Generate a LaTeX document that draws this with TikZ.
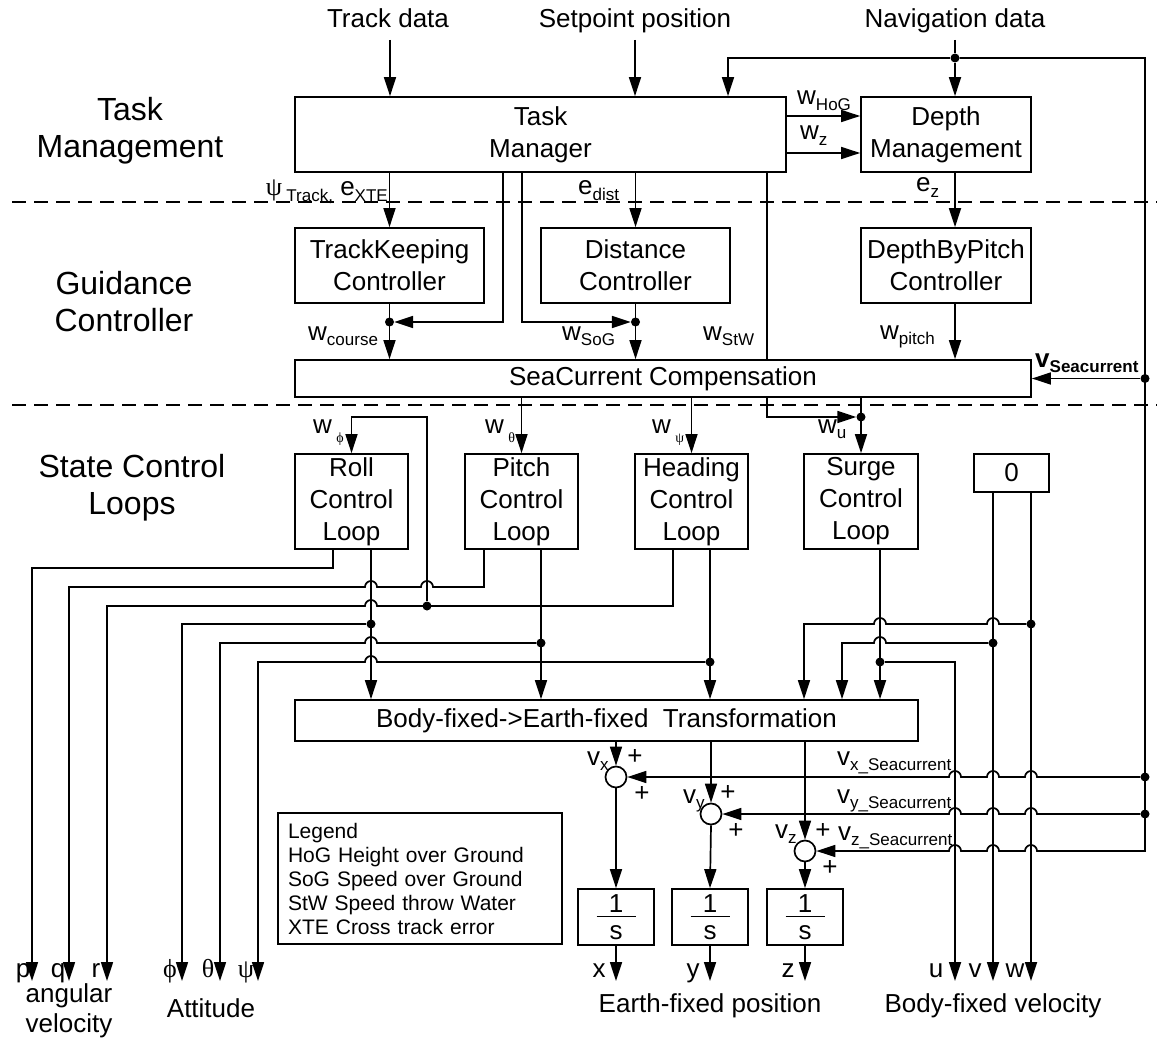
\documentclass[tikz,border=0pt]{standalone}
\usepackage{fontspec}
\setmainfont{Liberation Sans}
\newfontfamily\grk{Liberation Serif}
\usetikzlibrary{arrows.meta, positioning, calc}

% subscripts as drawn in the scheme
\newcommand{\ssub}[1]{\raisebox{-0.2em}{\fontsize{17}{17}\selectfont #1}}
\newcommand{\gsub}[1]{\,\raisebox{-0.35em}{\fontsize{14}{14}\selectfont\grk #1}}

\begin{document}
\begin{tikzpicture}[x=1pt, y=-1pt,
    blk/.style={draw, line width=1.7pt, inner sep=0pt, align=center, font=\fontsize{26}{32}\selectfont},
    intg/.style={blk, font=\fontsize{26}{26}\selectfont, minimum width=76, minimum height=56},
    sig/.style={line width=1.7pt, -{Triangle[length=19pt, width=12pt]}},
    wire/.style={line width=1.7pt},
    jdot/.style={circle, fill, inner sep=0pt, minimum size=9pt},
    sumc/.style={circle, draw, line width=1.7pt, fill=white, inner sep=0pt, minimum size=21pt},
    lab/.style={inner sep=0pt, font=\fontsize{26}{30}\selectfont},
    grp/.style={inner sep=0pt, align=center, font=\fontsize{32}{37}\selectfont},
    sep/.style={line width=1.4pt, dash pattern=on 14pt off 8pt}
]
\useasboundingbox (0,0) rectangle (1157,1043);

% layer separators
\draw[sep] (12,202) -- (1157,202);
\draw[sep] (12,405) -- (1157,405);

% layer names
\node[grp] (gTask) at (130,131) {Task\\Management};
\node[grp] (gGuid) at (124,302) {Guidance\\Controller};
\node[grp] (gState) at (132,488) {State Control\\Loops};

% inputs
\node[lab, anchor=base] (tdata) at (388,28) {Track data};
\node[lab, anchor=base] (spos) at (635,28) {Setpoint position};
\node[lab, anchor=base] (ndata) at (955,28) {Navigation data};
\coordinate (tdin) at (390,40);
\coordinate (spin) at (635,40);
\coordinate (ndin) at (955,40);

% blocks
\node[blk, minimum width=491, minimum height=75] (tm) at (540.5,134.5) {Task\\Manager};
\node[blk, minimum width=170, minimum height=75] (dm) at (946,134.5) {Depth\\Management};
\node[blk, minimum width=189, minimum height=75] (tk) at (389.5,265.5) {TrackKeeping\\Controller};
\node[blk, minimum width=189, minimum height=75] (dc) at (635.5,265.5) {Distance\\Controller};
\node[blk, minimum width=170, minimum height=75] (dp) at (946,265.5) {DepthByPitch\\Controller};
\node[blk, minimum width=736, minimum height=37] (sc) at (663,378.5) {SeaCurrent Compensation};
\node[blk, minimum width=113, minimum height=95] (roll) at (351.5,501.5) {Roll\\Control\\Loop};
\node[blk, minimum width=113, minimum height=95] (pitch) at (521.5,501.5) {Pitch\\Control\\Loop};
\node[blk, minimum width=113, minimum height=95] (head) at (691.5,501.5) {Heading\\Control\\Loop};
\node[blk, minimum width=114, minimum height=95] (surge) at (861,501.5) {Surge\\Control\\Loop};
\node[blk, minimum width=75, minimum height=38] (zero) at (1011.5,473) {0};
\node[blk, minimum width=623, minimum height=41] (tr) at (606.5,720.5) {Body-fixed->Earth-fixed\ \ Transformation};
\node[sumc] (cx) at (616,777) {};
\node[sumc] (cy) at (711,814) {};
\node[sumc] (cz) at (805,851) {};
\node[intg] (ix) at (616,917) {1\\[-21pt]\rule{39pt}{1.3pt}\\[-4pt]s};
\node[intg] (iy) at (710,917) {1\\[-21pt]\rule{39pt}{1.3pt}\\[-4pt]s};
\node[intg] (iz) at (805,917) {1\\[-21pt]\rule{39pt}{1.3pt}\\[-4pt]s};
\node[draw, line width=1.7pt, inner xsep=10pt, inner ysep=0pt, minimum height=131, text width=264pt,
      align=left, font=\fontsize{21}{24}\selectfont] (legend) at (420,878.5)
      {Legend\\HoG Height over Ground\\SoG Speed over Ground\\StW Speed throw Water\\XTE Cross track error};

% junctions
\node[jdot] (nj) at (955,58) {};
\node[jdot] (vj) at (1145,378.5) {};
\node[jdot] (rxj) at (1145,777) {};
\node[jdot] (ryj) at (1145,814) {};
\node[jdot] (jc) at (389.5,322) {};
\node[jdot] (js) at (635.5,322) {};
\node[jdot] (ju) at (861,417) {};
\node[jdot] (jh) at (427,606) {};
\node[jdot] (jr) at (371,624) {};
\node[jdot] (jp) at (541,643) {};
\node[jdot] (jy) at (710,662) {};
\node[jdot] (jsu) at (880,662) {};
\node[jdot] (jw) at (1031,624) {};
\node[jdot] (jv) at (993,643) {};

% outputs
\coordinate (pend) at (32,981);
\coordinate (qend) at (69,981);
\coordinate (rend) at (107,981);
\coordinate (phend) at (182,981);
\coordinate (thend) at (220,981);
\coordinate (psend) at (258,981);
\coordinate (xend) at (616,981);
\coordinate (yend) at (710,981);
\coordinate (zend) at (805,981);
\coordinate (uend) at (955,981);
\coordinate (vend) at (993,981);
\coordinate (wend) at (1031,981);

% task management
\draw[sig] (tdin) -- (tdin |- tm.north);
\draw[sig] (spin) -- (spin |- tm.north);
\draw[wire] (ndin) -- (nj);
\draw[sig] (nj) -- (nj |- dm.north);
\draw[sig] (nj) -| (728,0 |- tm.north);
\draw[sig] (tm.east |- 0,116) -- (dm.west |- 0,116);
\draw[sig] (tm.east |- 0,153) -- (dm.west |- 0,153);

% guidance
\draw[sig] (tk.north |- tm.south) -- (tk.north);
\draw[sig] (503,0 |- tm.south) |- (jc);
\draw[sig] (522,0 |- tm.south) |- (js);
\draw[sig] (dc.north |- tm.south) -- (dc.north);
\draw[wire] (767,0 |- tm.south) -- (767,0 |- sc.north);
\draw[sig] (955,0 |- dm.south) -- (955,0 |- dp.north);
\draw[sig] (955,0 |- dp.south) -- (955,0 |- sc.north);
\draw[sig] (tk.south) -- (tk.south |- sc.north);
\draw[sig] (dc.south) -- (dc.south |- sc.north);
\draw[sig] (vj) -- (sc.east);

% sea current rail
\draw[sig] (nj) -| (1145,851) -- (1037,851) arc[start angle=0, end angle=180, radius=6pt]
  -- (999,851) arc[start angle=0, end angle=180, radius=6pt]
  -- (961,851) arc[start angle=0, end angle=180, radius=6pt] -- (cz.east);
\draw[sig] (rxj) -- (1037,777) arc[start angle=0, end angle=180, radius=6pt]
  -- (999,777) arc[start angle=0, end angle=180, radius=6pt]
  -- (961,777) arc[start angle=0, end angle=180, radius=6pt] -- (cx.east);
\draw[sig] (ryj) -- (1037,814) arc[start angle=0, end angle=180, radius=6pt]
  -- (999,814) arc[start angle=0, end angle=180, radius=6pt]
  -- (961,814) arc[start angle=0, end angle=180, radius=6pt] -- (cy.east);

% state control loops inputs
\draw[sig] (pitch.north |- sc.south) -- (pitch.north);
\draw[sig] (head.north |- sc.south) -- (head.north);
\draw[sig] (surge.north |- sc.south) -- (surge.north);
\draw[sig] (767,0 |- sc.south) |- (ju);
\draw[sig] (jh) -- (427,417) -| (roll.north);

% loop outputs
\draw[sig] (333,0 |- roll.south) |- (32,568) -- (pend);
\draw[sig] (484,0 |- pitch.south) -- (484,587) -- (433,587) arc[start angle=0, end angle=180, radius=6pt]
  -- (377,587) arc[start angle=0, end angle=180, radius=6pt] -- (69,587) -- (qend);
\draw[sig] (673,0 |- head.south) -- (673,606) -- (377,606) arc[start angle=0, end angle=180, radius=6pt]
  -- (107,606) -- (rend);
\draw[sig] (371,0 |- roll.south) -- (371,0 |- tr.north);
\draw[sig] (jr) -| (phend);
\draw[sig] (541,0 |- pitch.south) -- (541,0 |- tr.north);
\draw[sig] (jp) -- (377,643) arc[start angle=0, end angle=180, radius=6pt] -- (220,643) -- (thend);
\draw[sig] (710,0 |- head.south) -- (710,0 |- tr.north);
\draw[sig] (jy) -- (377,662) arc[start angle=0, end angle=180, radius=6pt] -- (258,662) -- (psend);
\draw[sig] (880,0 |- surge.south) -- (880,0 |- tr.north);
\draw[sig] (jsu) -| (uend);
\draw[sig] (993,0 |- zero.south) -- (vend);
\draw[sig] (1031,0 |- zero.south) -- (wend);
\draw[sig] (jw) -- (999,624) arc[start angle=0, end angle=180, radius=6pt]
  -- (886,624) arc[start angle=0, end angle=180, radius=6pt] -- (804,624) -- (804,0 |- tr.north);
\draw[sig] (jv) -- (886,643) arc[start angle=0, end angle=180, radius=6pt] -- (842,643) -- (842,0 |- tr.north);

% earth-fixed position
\draw[sig] (cx.north |- tr.south) -- (cx.north);
\draw[sig] (cy.north |- tr.south) -- (cy.north);
\draw[sig] (cz.north |- tr.south) -- (cz.north);
\draw[sig] (cx.south) -- (ix.north);
\draw[sig] (cy.south) -- (iy.north);
\draw[sig] (cz.south) -- (iz.north);
\draw[sig] (ix.south) -- (xend);
\draw[sig] (iy.south) -- (yend);
\draw[sig] (iz.south) -- (zend);

% signal labels
\node[lab, anchor=base west] (lhog) at (797,105) {w\ssub{HoG}};
\node[lab, anchor=base west] (lwz) at (800,140) {w\ssub{z}};
\node[lab, anchor=base east] (ltrack) at (388,196) {{\grk ψ}\,\ssub{Track,} e\ssub{XTE}};
\node[lab, anchor=base west] (ldist) at (578,195) {e\ssub{dist}};
\node[lab, anchor=base west] (lez) at (916,192) {e\ssub{z}};
\node[lab, anchor=base west] (lcourse) at (308,340) {w\ssub{course}};
\node[lab, anchor=base west] (lsog) at (562,340) {w\ssub{SoG}};
\node[lab, anchor=base west] (lstw) at (703,340) {w\ssub{StW}};
\node[lab, anchor=base west] (lpitch) at (880,339) {w\ssub{pitch}};
\node[lab, anchor=base west] (lvsc) at (1035,367) {\textbf{v\ssub{Seacurrent}}};
\node[lab, anchor=base west] (lwphi) at (313,433) {w\gsub{ϕ}};
\node[lab, anchor=base west] (lwth) at (485,433) {w\gsub{θ}};
\node[lab, anchor=base west] (lwpsi) at (652,433) {w\gsub{ψ}};
\node[lab, anchor=base west] (lwu) at (818,433) {w\ssub{u}};
\node[lab, anchor=base west] (lvx) at (587,765) {v\ssub{x}};
\node[lab, anchor=base west] (lvy) at (683,803) {v\ssub{y}};
\node[lab, anchor=base west] (lvz) at (775,838) {v\ssub{z}};
\node[lab] (px1) at (635,757) {+};
\node[lab] (px2) at (642,794) {+};
\node[lab] (py1) at (728,793) {+};
\node[lab] (py2) at (736,831) {+};
\node[lab] (pz1) at (823,831) {+};
\node[lab] (pz2) at (830,868) {+};
\node[lab, anchor=base west] (lvxs) at (837,765) {v\ssub{x\_Seacurrent}};
\node[lab, anchor=base west] (lvys) at (837,803) {v\ssub{y\_Seacurrent}};
\node[lab, anchor=base west] (lvzs) at (838,840) {v\ssub{z\_Seacurrent}};

% output labels
\node[lab, anchor=base] (lp) at (23,977) {p};
\node[lab, anchor=base] (lq) at (58,977) {q};
\node[lab, anchor=base] (lr) at (96,977) {r};
\node[lab, anchor=base] (lphi) at (170,977) {\grk ϕ};
\node[lab, anchor=base] (lth) at (208,977) {\grk θ};
\node[lab, anchor=base] (lpsi) at (246,977) {\grk ψ};
\node[lab, anchor=base] (lx) at (599,977) {x};
\node[lab, anchor=base] (ly) at (693,977) {y};
\node[lab, anchor=base] (lz) at (788,977) {z};
\node[lab, anchor=base] (lu) at (936,977) {u};
\node[lab, anchor=base] (lv) at (975,977) {v};
\node[lab, anchor=base] (lw) at (1015,977) {w};
\node[lab, align=center] (lang) at (69,1011) {angular\\velocity};
\node[lab, anchor=base] (latt) at (211,1017) {Attitude};
\node[lab, anchor=base] (lefp) at (710,1012) {Earth-fixed position};
\node[lab, anchor=base] (lbfv) at (993,1012) {Body-fixed velocity};
\end{tikzpicture}
\end{document}
